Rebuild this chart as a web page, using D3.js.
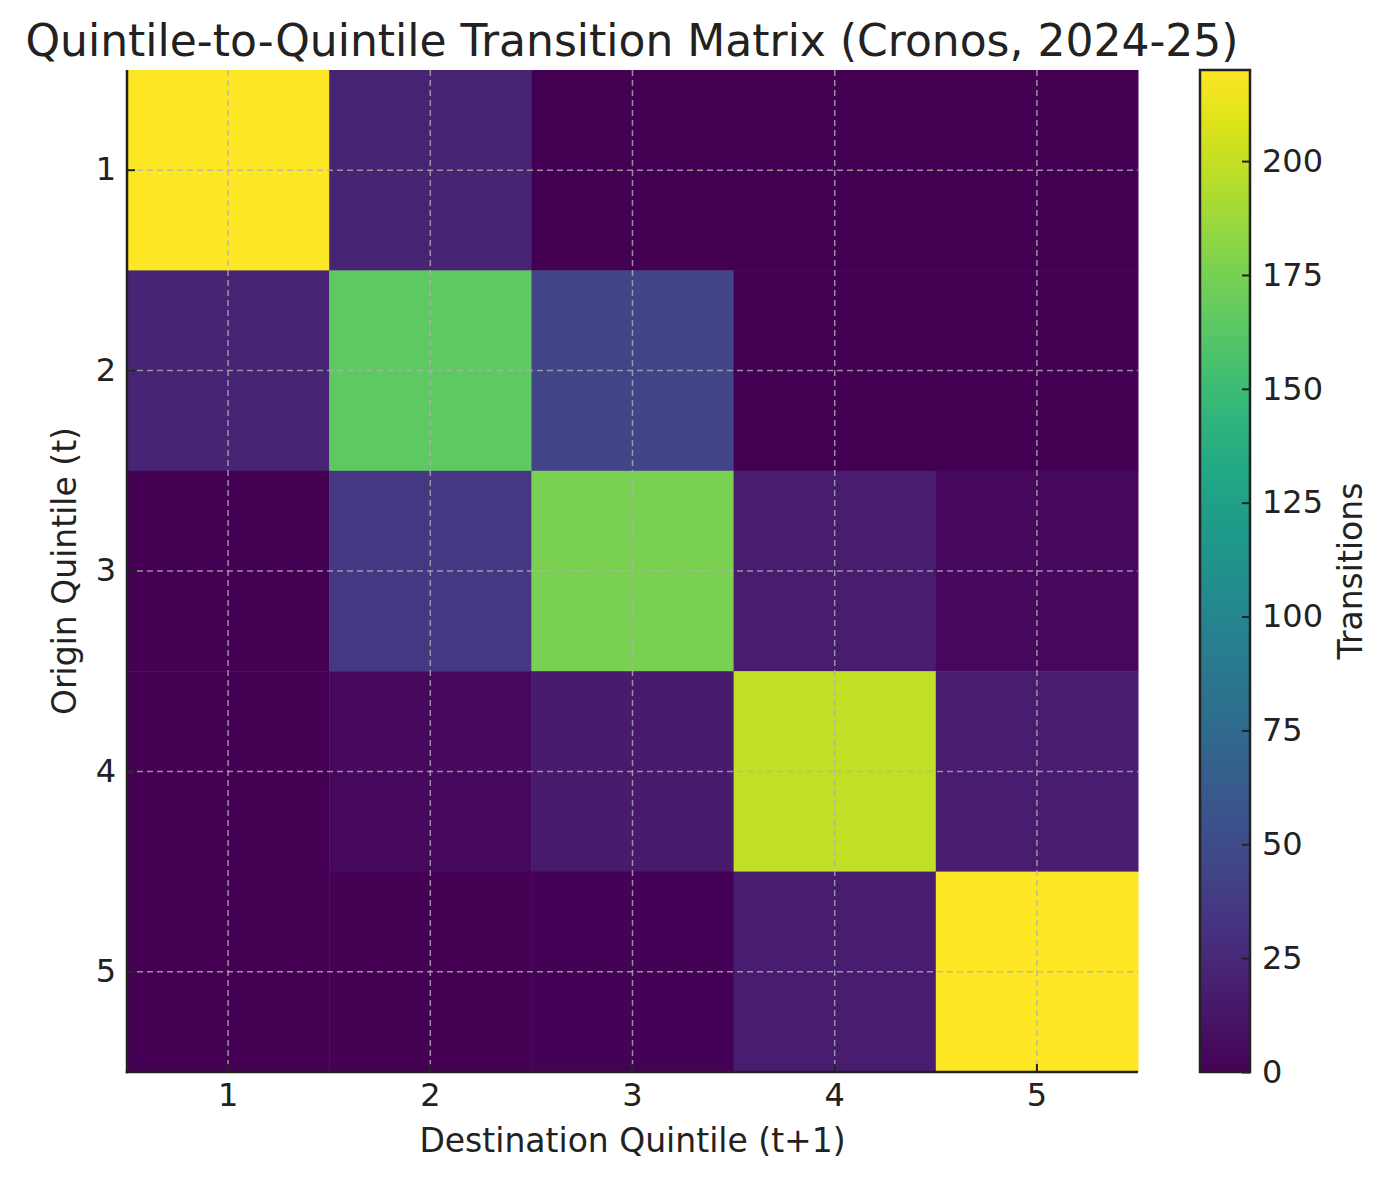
<!DOCTYPE html>
<html>
<head>
<meta charset="utf-8">
<script src="https://cdn.jsdelivr.net/npm/d3@7"></script>
<style>
body { margin: 0; background: #fff; }
text { font-family: "DejaVu Sans", sans-serif; fill: #222; }
</style>
</head>
<body>
<svg id="chart" width="1388" height="1180"></svg>
<script>
var origins = ['1','2','3','4','5'];
var destinations = ['1','2','3','4','5'];
// rows = origin quintile, columns = destination quintile
var row1 = [220, 22, 0, 0, 0];
var row2 = [22, 165, 44, 0, 0];
var row3 = [0, 35, 176, 17, 5];
var row4 = [0, 5, 15, 199, 18];
var row5 = [0, 0, 1, 18, 220];
var rows = [row1, row2, row3, row4, row5];
var cbar_ticks = [0, 25, 50, 75, 100, 125, 150, 175, 200];
var vmax = 220;

var svg = d3.select('#chart');
var m_left = 127, m_right = 1138, m_top = 70, m_bottom = 1072;

var cells = [];
rows.forEach(function(r, i) {
	r.forEach(function(v, j) { cells.push({o: origins[i], d: destinations[j], v: v}); });
});

var x = d3.scaleBand().domain(destinations).range([m_left, m_right]);
var y = d3.scaleBand().domain(origins).range([m_top, m_bottom]);
var color = d3.scaleSequential(d3.interpolateViridis).domain([0, vmax]);

svg.selectAll('rect.cell').data(cells).enter().append('rect')
	.attr('class', 'cell')
	.attr('x', d => x(d.d))
	.attr('y', d => y(d.o))
	.attr('width', x.bandwidth() + 0.5)
	.attr('height', y.bandwidth() + 0.5)
	.attr('fill', d => color(d.v))

// dashed grid at tick centres
var grid = svg.append('g').attr('stroke', '#b0b0b0').attr('stroke-opacity', 0.8)
	.attr('stroke-width', 1.5).attr('stroke-dasharray', '6,4');
destinations.forEach(function(d) {
	var cx = x(d) + x.bandwidth() / 2;
	grid.append('line').attr('x1', cx).attr('x2', cx).attr('y1', m_top).attr('y2', m_bottom);
});
origins.forEach(function(o) {
	var cy = y(o) + y.bandwidth() / 2;
	grid.append('line').attr('x1', m_left).attr('x2', m_right).attr('y1', cy).attr('y2', cy);
});

function styleAxis(g) {
	g.selectAll('path.domain').remove();
	g.selectAll('.tick line').attr('stroke', '#222').attr('stroke-width', 2);
	g.selectAll('.tick text').style('font-size', '32px').style('font-family', '"DejaVu Sans", sans-serif').attr('fill', '#222');
}

// ticks point inward, like the reference
var xa = svg.append('g').attr('transform', 'translate(0,' + m_bottom + ')')
	.call(d3.axisBottom(x).tickSizeOuter(0).tickSize(-8).tickPadding(11));
styleAxis(xa);
var ya = svg.append('g').attr('transform', 'translate(' + m_left + ',0)')
	.call(d3.axisLeft(y).tickSizeOuter(0).tickSize(-8).tickPadding(11));
styleAxis(ya);
// spines: left and bottom only
svg.append('line').attr('x1', m_left).attr('x2', m_left).attr('y1', m_top).attr('y2', m_bottom + 1.25)
	.attr('stroke', '#222').attr('stroke-width', 2.5);
svg.append('line').attr('x1', m_left - 1.25).attr('x2', m_right).attr('y1', m_bottom).attr('y2', m_bottom)
	.attr('stroke', '#222').attr('stroke-width', 2.5);

svg.append('text').attr('x', (m_left + m_right) / 2).attr('y', 1152)
	.attr('text-anchor', 'middle').style('font-size', '33px').text('Destination Quintile (t+1)');
svg.append('text').attr('transform', 'translate(76,' + ((m_top + m_bottom) / 2) + ') rotate(-90)')
	.attr('text-anchor', 'middle').style('font-size', '33px').text('Origin Quintile (t)');
svg.append('text').attr('x', 632).attr('y', 56)
	.attr('text-anchor', 'middle').style('font-size', '44px').text('Quintile-to-Quintile Transition Matrix (Cronos, 2024-25)');

// colorbar
var cb_x = 1200, cb_w = 50;
var defs = svg.append('defs');
var grad = defs.append('linearGradient').attr('id', 'cbgrad')
	.attr('x1', 0).attr('y1', 1).attr('x2', 0).attr('y2', 0);
d3.range(0, 1.0001, 0.05).forEach(function(t) {
	grad.append('stop').attr('offset', t).attr('stop-color', d3.interpolateViridis(t));
});
svg.append('rect').attr('x', cb_x).attr('y', m_top).attr('width', cb_w).attr('height', m_bottom - m_top)
	.attr('fill', 'url(#cbgrad)').attr('stroke', '#222').attr('stroke-width', 2.5);
var cscale = d3.scaleLinear().domain([0, vmax]).range([m_bottom, m_top]);
var ca = svg.append('g').attr('transform', 'translate(' + (cb_x + cb_w) + ',0)')
	.call(d3.axisRight(cscale).tickValues(cbar_ticks).tickSize(7).tickPadding(8).tickSizeOuter(0));
ca.select('path.domain').remove();
ca.selectAll('.tick line').attr('stroke', '#222').attr('stroke-width', 2).attr('x1', -8).attr('x2', 0);
ca.selectAll('.tick text').style('font-size', '32px').style('font-family', '"DejaVu Sans", sans-serif').attr('fill', '#222').attr('x', 12);
svg.append('text').attr('transform', 'translate(1362,' + ((m_top + m_bottom) / 2) + ') rotate(-90)')
	.attr('text-anchor', 'middle').style('font-size', '33px').text('Transitions');
</script>
</body>
</html>
